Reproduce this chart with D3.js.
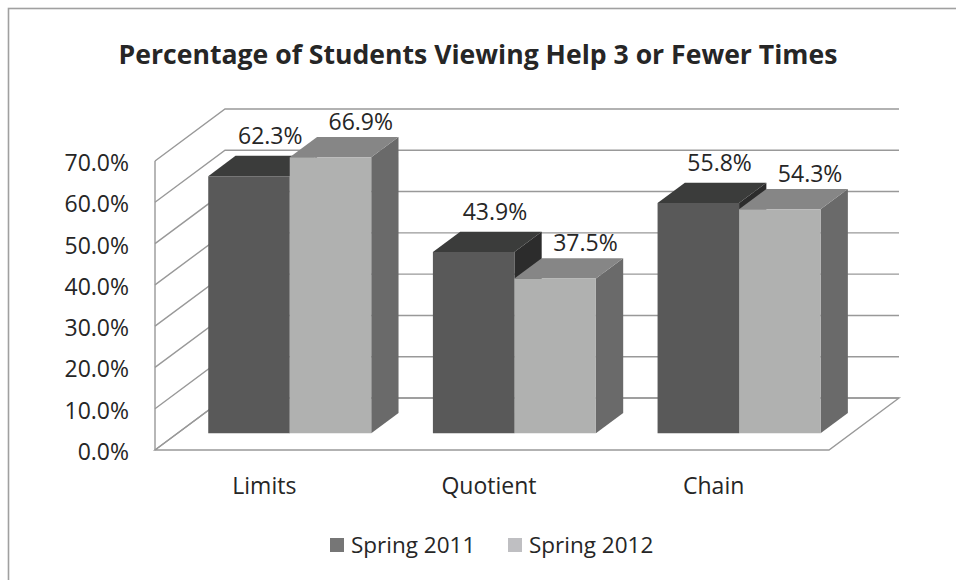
<!DOCTYPE html>
<html>
<head>
<meta charset="utf-8">
<script src="https://cdn.jsdelivr.net/npm/d3@7"></script>
<style>
  html, body { margin: 0; padding: 0; background: #fff; }
  svg { display: block; }
  text { font-family: "Open Sans", "Noto Sans", sans-serif; fill: #262626; }
</style>
</head>
<body>
<svg id="chart" width="956" height="580"></svg>
<script>
// Chart data
const categories = ["Limits", "Quotient", "Chain"];
const seriesNames = ["Spring 2011", "Spring 2012"];
const spring2011 = [62.3, 43.9, 55.8];
const spring2012 = [66.9, 37.5, 54.3];
const yTickValues = [0, 10, 20, 30, 40, 50, 60, 70];
const chartTitle = "Percentage of Students Viewing Help 3 or Fewer Times";

const seriesValues = [spring2011, spring2012];

// Face shades per series: front, top, side, legend key
const shades = [
  { front: "#595959", top: "#3b3c3b", side: "#2c2c2c", key: "#767676" },
  { front: "#b0b1b0", top: "#868686", side: "#6a6a6a", key: "#bfbfc2" }
];

const svg = d3.select("#chart");
const W = 956, H = 580;

// Front plane of the 3-D plot box
const plotLeft = 155, plotRight = 829, plotBottom = 450, plotTop = 161;
// Depth vector of the plot box (projection of the z axis)
const DX = 70, DY = -52;
// Bars occupy this slice of the depth
const zFront = 0.32, zBack = 0.71;

const x = d3.scaleBand()
  .domain(categories)
  .range([plotLeft, plotRight])
  .paddingInner(0.2745)
  .paddingOuter(0.2745 / 2);

const xSeries = d3.scaleBand()
  .domain(seriesNames)
  .range([0, x.bandwidth()]);

const y = d3.scaleLinear()
  .domain([0, 70])
  .range([plotBottom, plotTop]);

const proj = (px, v, z) => [px + z * DX, y(v) + z * DY];
const poly = pts => pts.map(p => p.join(",")).join(" ");

// Outer frame
svg.append("rect")
  .attr("x", 8.5).attr("y", 8.5)
  .attr("width", W + 20).attr("height", H + 20)
  .attr("fill", "none").attr("stroke", "#a0a0a0").attr("stroke-width", 1.6);

// Title
svg.append("text")
  .attr("x", W / 2).attr("y", 64)
  .attr("text-anchor", "middle")
  .style("font-size", "26.6px").style("font-weight", "700")
  .text(chartTitle);

const walls = svg.append("g")
  .attr("fill", "none").attr("stroke", "#999").attr("stroke-width", 1.4);

// Floor outline
walls.append("polygon")
  .attr("points", poly([
    proj(plotLeft, 0, 0), proj(plotRight, 0, 0),
    proj(plotRight, 0, 1), proj(plotLeft, 0, 1)
  ]));

// Gridlines on the side wall and back wall
yTickValues.forEach(t => {
  const a = proj(plotLeft, t, 0), b = proj(plotLeft, t, 1), c = proj(plotRight, t, 1);
  walls.append("polyline").attr("points", poly([a, b, c]));
});

// Value axis line on the front edge of the side wall
walls.append("line")
  .attr("x1", plotLeft).attr("x2", plotLeft)
  .attr("y1", y(0)).attr("y2", y(70));

// Value axis labels
const fmtTick = d3.format(".1f");
svg.append("g").selectAll("text")
  .data(yTickValues)
  .join("text")
  .attr("x", 129)
  .attr("y", d => y(d) + 2)
  .attr("dy", "0.35em")
  .attr("text-anchor", "end")
  .style("font-size", "23px")
  .text(d => fmtTick(d) + "%");

// Category labels
svg.append("g").selectAll("text")
  .data(categories)
  .join("text")
  .attr("x", d => x(d) + x.bandwidth() / 2 - 3)
  .attr("y", 486)
  .attr("dy", "0.35em")
  .attr("text-anchor", "middle")
  .style("font-size", "23px")
  .text(d => d);

// Bars (left to right so nearer faces cover hidden side faces)
const bars = svg.append("g");
const fmtVal = d3.format(".1f");
categories.forEach((cat, ci) => {
  seriesNames.forEach((s, si) => {
    const v = seriesValues[si][ci];
    const x0 = x(cat) + xSeries(s), x1 = x0 + xSeries.bandwidth();
    const sh = shades[si];
    const g = bars.append("g");
    // side face
    g.append("polygon").attr("fill", sh.side)
      .attr("points", poly([proj(x1, 0, zFront), proj(x1, 0, zBack), proj(x1, v, zBack), proj(x1, v, zFront)]));
    // top face
    g.append("polygon").attr("fill", sh.top)
      .attr("points", poly([proj(x0, v, zFront), proj(x1, v, zFront), proj(x1, v, zBack), proj(x0, v, zBack)]));
    // front face
    g.append("polygon").attr("fill", sh.front)
      .attr("points", poly([proj(x0, 0, zFront), proj(x1, 0, zFront), proj(x1, v, zFront), proj(x0, v, zFront)]));
  });
});

// Value labels above each bar
categories.forEach((cat, ci) => {
  seriesNames.forEach((s, si) => {
    const v = seriesValues[si][ci];
    const cx = x(cat) + xSeries(s) + xSeries.bandwidth() / 2;
    const p = proj(cx, v, zBack);
    svg.append("text")
      .attr("x", p[0] - 6 + si * 9)
      .attr("y", p[1] - 20 + si * 5)
      .attr("dy", "0.35em")
      .attr("text-anchor", "middle")
      .style("font-size", "23px")
      .text(fmtVal(v) + "%");
  });
});

// Legend
const legend = svg.append("g");
const legendX = [330, 508];
seriesNames.forEach((s, si) => {
  legend.append("rect")
    .attr("x", legendX[si]).attr("y", 538)
    .attr("width", 14).attr("height", 14)
    .attr("fill", shades[si].key);
  legend.append("text")
    .attr("x", legendX[si] + 21).attr("y", 545)
    .attr("dy", "0.35em")
    .style("font-size", "22.5px")
    .text(s);
});
</script>
</body>
</html>
